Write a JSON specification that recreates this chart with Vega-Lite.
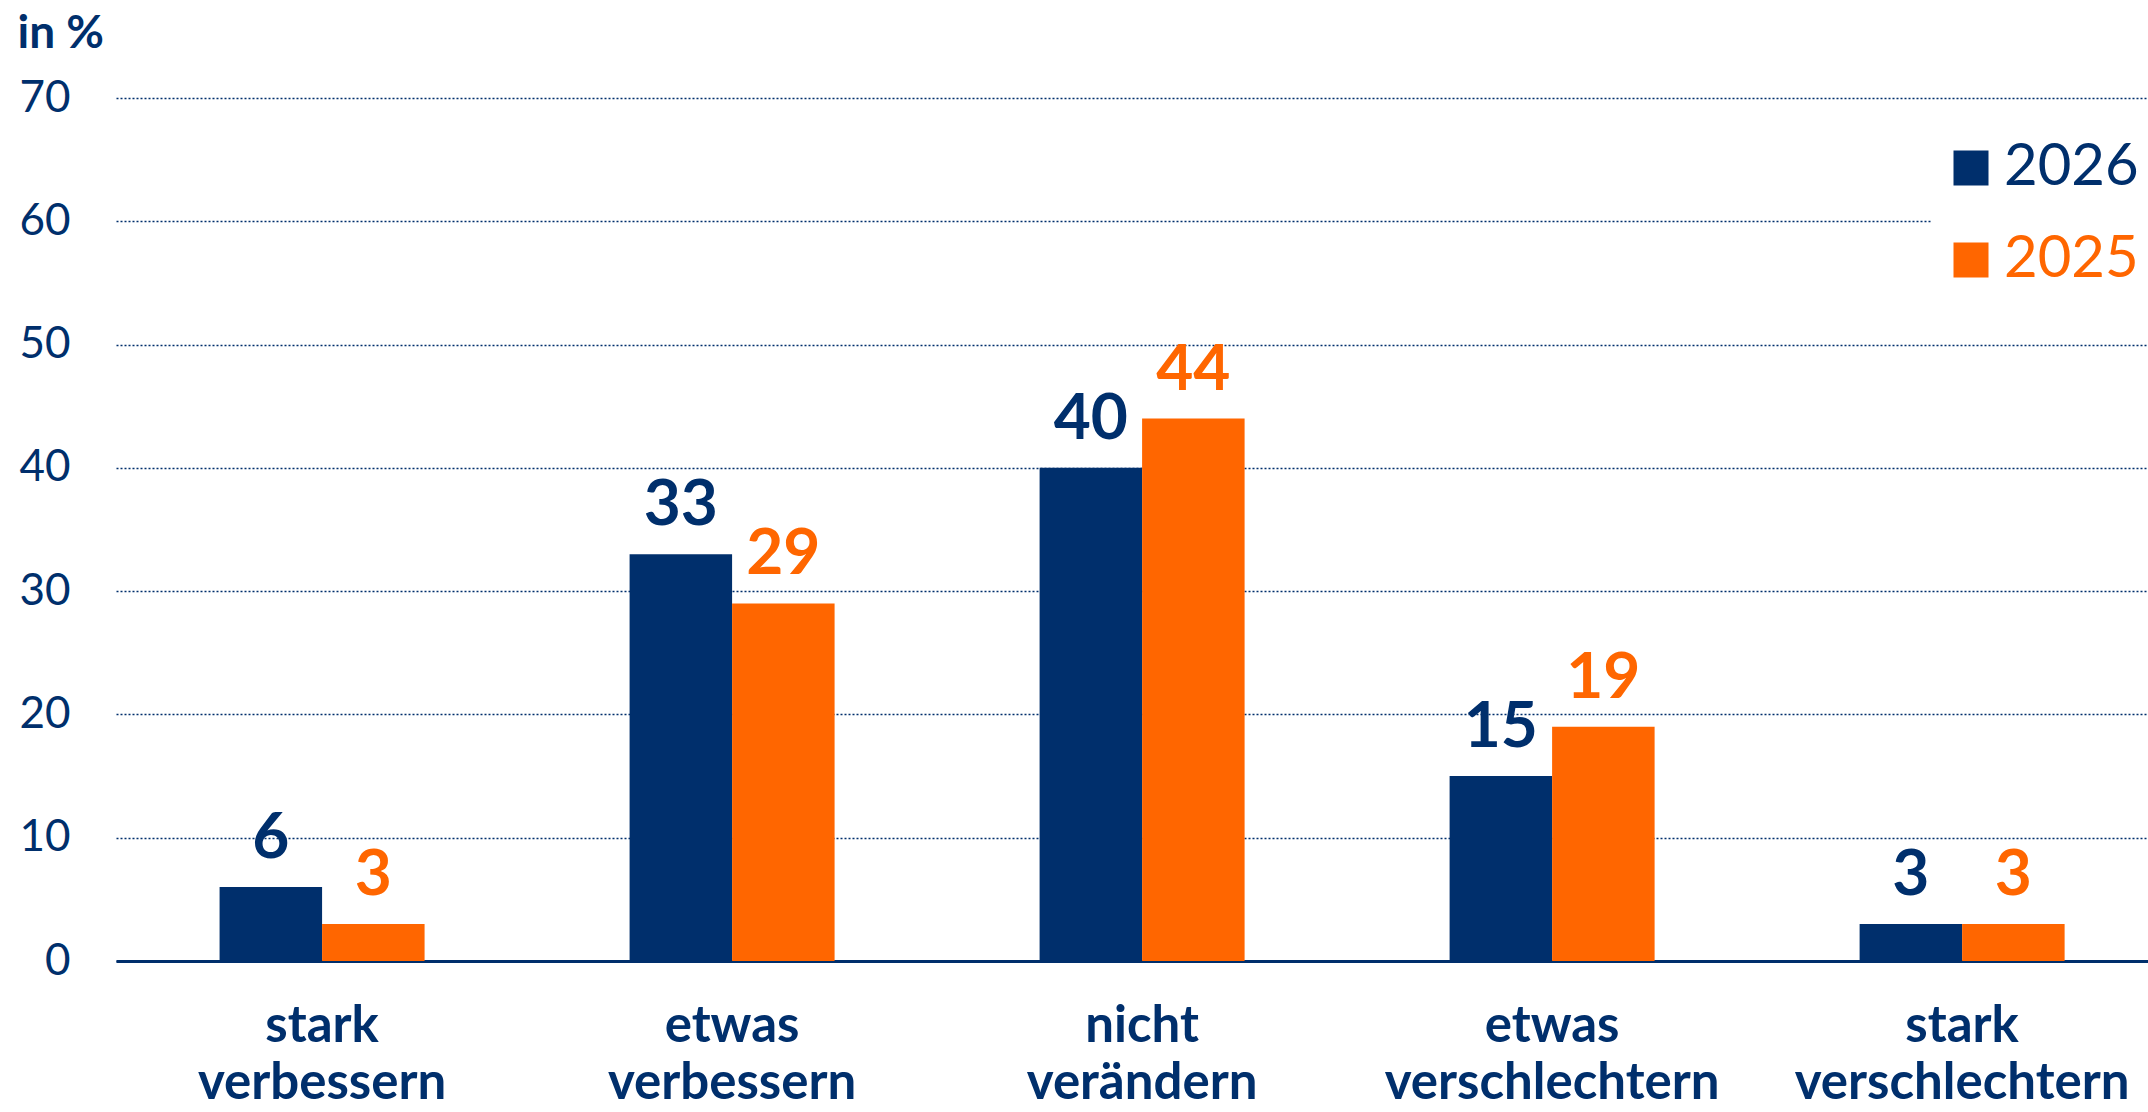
{
  "$schema": "https://vega.github.io/schema/vega-lite/v6.json",
  "autosize": {"type": "none"},
  "width": 2032,
  "height": 863,
  "padding": {"left": 116, "top": 98, "right": 0, "bottom": 151},
  "background": "white",
  "config": {
    "view": {"stroke": null},
    "font": "Lato",
    "axis": {"labelColor": "#002f6c", "titleColor": "#002f6c", "labelFont": "Lato", "titleFont": "Lato"}
  },
  "data": {
    "values": [
      {"category": "stark verbessern", "year": "2026", "value": 6},
      {"category": "stark verbessern", "year": "2025", "value": 3},
      {"category": "etwas verbessern", "year": "2026", "value": 33},
      {"category": "etwas verbessern", "year": "2025", "value": 29},
      {"category": "nicht verändern", "year": "2026", "value": 40},
      {"category": "nicht verändern", "year": "2025", "value": 44},
      {"category": "etwas verschlechtern", "year": "2026", "value": 15},
      {"category": "etwas verschlechtern", "year": "2025", "value": 19},
      {"category": "stark verschlechtern", "year": "2026", "value": 3},
      {"category": "stark verschlechtern", "year": "2025", "value": 3}
    ]
  },
  "encoding": {
    "x": {
      "field": "category", "type": "nominal", "sort": null,
      "scale": {"paddingInner": 0.5, "paddingOuter": 0.228, "align": 0.554},
      "axis": {
        "title": null, "labelAngle": 0, "ticks": false, "domain": true,
        "domainColor": "#002f6c", "domainWidth": 3, "grid": false,
        "labelFontSize": 51, "labelFontWeight": "bold", "labelLineHeight": 57,
        "labelPadding": 40, "labelLimit": 600, "labelExpr": "split(datum.label, ' ')"
      }
    },
    "xOffset": {"field": "year", "type": "nominal", "sort": ["2026", "2025"]},
    "y": {
      "field": "value", "type": "quantitative",
      "scale": {"domain": [0, 70], "nice": false},
      "axis": {
        "values": [0, 10, 20, 30, 40, 50, 60, 70],
        "title": "in %", "titleAngle": 0, "titleAlign": "left", "titleBaseline": "alphabetic",
        "titleX": -99, "titleY": -51, "titleFontSize": 46, "titleFontWeight": "bold",
        "ticks": false, "domain": false, "grid": true,
        "gridDash": [2, 2], "gridColor": "#002f6c", "gridWidth": 1.5,
        "labelFontSize": 44, "labelPadding": 46, "labelAlign": "right"
      }
    },
    "color": {
      "field": "year", "type": "nominal",
      "scale": {"domain": ["2026", "2025"], "range": ["#002f6c", "#ff6600"]}
    }
  },
  "layer": [
    {
      "mark": {"type": "bar"},
      "encoding": {
        "color": {
          "field": "year", "type": "nominal",
          "scale": {"domain": ["2026", "2025"], "range": ["#002f6c", "#ff6600"]},
          "legend": {
            "orient": "none", "legendX": 1815, "legendY": 30, "direction": "vertical",
            "title": null, "symbolType": "square", "symbolSize": 1225,
            "symbolStrokeWidth": 0, "symbolOpacity": 1,
            "labelFontSize": 58, "labelFont": "Lato", "labelOffset": 4, "labelLimit": 400,
            "fillColor": "white", "padding": 11, "rowPadding": 34,
            "encode": {"labels": {"update": {"fill": {"signal": "datum.value === '2026' ? '#002f6c' : '#ff6600'"}}}}
          }
        }
      }
    },
    {
      "mark": {"type": "text", "baseline": "alphabetic", "dy": -29, "fontSize": 64, "fontWeight": "bold", "font": "Lato"},
      "encoding": {
        "text": {"field": "value", "type": "quantitative"}
      }
    }
  ]
}
